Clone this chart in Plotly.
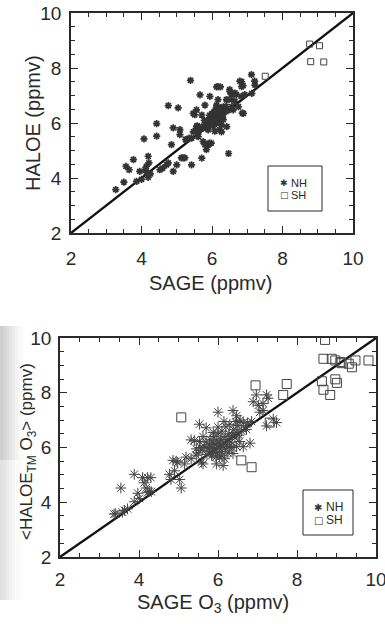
import plotly.graph_objects as go

# ---------------- data: top panel (SAGE vs HALOE) ----------------
top_nh_x = [3.27, 3.50, 3.56, 3.65, 3.77, 3.86, 3.95, 4.00, 4.07, 4.10, 4.14, 4.14, 4.19, 4.21, 4.19, 4.25,
            4.43, 4.43, 4.52, 4.60, 4.71, 4.76, 4.76, 4.85, 4.90, 4.90, 5.00, 5.04, 5.09, 5.09, 5.13, 5.18,
            5.23, 5.28, 5.39, 5.42, 5.42, 5.47, 5.47, 5.51, 5.56, 5.57, 5.61, 5.61, 5.65, 5.66, 5.71, 5.71,
            5.75, 5.75, 5.80, 5.80, 5.84, 5.89, 5.89, 5.89, 5.94, 5.94, 5.92, 5.98, 6.04, 6.08, 6.13, 6.13,
            6.17, 6.24, 6.17, 6.27, 6.22, 6.27, 6.27, 6.32, 6.32, 6.36, 6.41, 6.42, 6.42, 6.47, 6.50, 6.51,
            6.55, 6.56, 6.56, 6.60, 6.65, 6.65, 6.69, 6.75, 6.79, 6.83, 6.84, 6.84, 6.86, 6.88, 6.89, 6.93,
            7.12, 7.13, 7.21, 7.22,
            5.95, 6.00, 6.02, 6.05, 6.08, 6.10, 5.98, 6.03, 6.12, 6.15, 5.90, 5.85, 6.00, 6.06, 6.18, 6.22,
            5.93, 6.10, 6.20, 6.25, 5.80, 5.70, 5.78, 6.12, 6.35, 6.40, 6.30, 6.45, 6.00, 6.05,
            5.55, 5.60, 5.65, 5.58, 5.35, 5.25]
top_nh_y = [3.58, 3.85, 4.42, 4.30, 4.67, 3.88, 4.24, 3.95, 5.42, 4.30, 4.42, 4.20, 4.79, 4.55, 4.02, 4.15,
            5.98, 5.52, 4.30, 4.36, 4.48, 4.55, 6.63, 5.21, 5.82, 4.24, 4.48, 6.55, 5.76, 5.58, 4.73, 4.73,
            4.73, 5.39, 7.55, 4.48, 5.45, 6.35, 5.68, 6.30, 6.48, 5.87, 5.50, 5.70, 5.82, 7.02, 6.29, 4.72,
            5.81, 5.32, 6.65, 5.21, 5.03, 5.88, 5.75, 5.20, 6.97, 6.17, 5.27, 5.27, 6.05, 5.70, 6.65, 7.31,
            7.32, 7.31, 6.85, 6.36, 5.76, 5.68, 5.93, 6.12, 6.59, 6.55, 6.85, 6.84, 5.87, 4.89, 7.21, 7.14,
            7.03, 6.84, 6.59, 6.48, 6.79, 7.09, 7.03, 6.59, 7.52, 6.97, 7.50, 7.32, 6.36, 7.36, 6.35, 7.03,
            7.76, 7.08, 7.52, 7.38,
            6.05, 6.10, 6.20, 6.25, 6.15, 6.30, 5.95, 5.90, 6.05, 6.20, 6.10, 6.00, 6.35, 6.40, 6.45, 6.30,
            6.28, 6.50, 6.10, 6.55, 5.95, 5.85, 6.10, 5.98, 6.40, 6.60, 6.25, 6.45, 6.00, 6.12,
            5.80, 5.60, 5.75, 5.90, 5.45, 5.40]
top_sh_x = [7.51, 8.77, 9.05, 8.80, 9.17]
top_sh_y = [7.70, 8.87, 8.81, 8.23, 8.22]

# ---------------- data: bottom panel (SAGE O3 vs <HALOE_TM O3>) ----------------
bot_nh_x = [3.37, 3.41, 3.54, 3.58, 3.63, 3.71, 3.88, 3.88, 3.97, 4.01, 4.09, 4.13, 4.18, 4.22, 4.26, 4.30,
            4.31, 4.22, 4.77, 4.81, 4.86, 4.90, 4.94, 4.98, 5.03, 5.07, 5.15, 5.19, 5.32, 5.32, 5.45, 5.40,
            5.53, 5.53, 5.58, 5.62, 5.70, 5.87, 5.96, 6.00, 6.04, 6.13, 6.17, 6.38, 6.47, 6.55, 6.64, 6.64,
            6.72, 6.81, 6.89, 6.97, 7.23, 7.02, 7.14, 7.06, 7.14, 7.27, 7.23, 7.40, 7.48, 6.47, 6.38,
            5.60, 5.65, 5.70, 5.75, 5.78, 5.80, 5.82, 5.85, 5.88, 5.90, 5.92, 5.95, 5.97, 6.00, 6.02, 6.05,
            6.07, 6.10, 6.12, 6.15, 6.18, 6.20, 6.22, 6.25, 6.28, 6.30, 6.33, 6.36, 6.40, 6.43, 6.46, 6.50,
            6.53, 6.56, 6.60, 5.72, 5.84, 5.98, 6.08, 6.20, 6.30, 5.50, 5.55, 5.45, 5.62, 5.88, 6.00, 6.15,
            6.45, 6.70, 6.75, 6.85, 5.95, 6.10, 6.25, 6.35]
bot_nh_y = [3.57, 3.58, 4.52, 3.64, 3.70, 3.76, 5.02, 4.02, 4.33, 4.14, 4.90, 4.71, 4.52, 4.90, 4.40, 4.90,
            4.39, 4.35, 5.02, 4.83, 5.53, 5.15, 5.50, 5.46, 4.83, 4.52, 5.40, 5.65, 6.28, 5.59, 5.72, 6.25,
            6.85, 6.22, 5.46, 5.40, 6.72, 5.78, 5.40, 7.29, 5.65, 5.34, 5.59, 7.35, 7.16, 6.22, 6.03, 6.91,
            6.66, 6.16, 7.67, 7.92, 7.92, 7.54, 7.35, 7.29, 7.61, 7.80, 6.79, 7.04, 6.91, 6.03, 5.78,
            5.90, 6.05, 6.20, 5.95, 6.10, 6.30, 5.85, 6.00, 6.15, 6.40, 5.95, 6.10, 6.25, 6.50, 6.00, 6.15,
            6.30, 6.60, 6.05, 6.20, 6.40, 6.75, 6.10, 6.30, 6.50, 6.85, 6.20, 6.45, 6.65, 6.35, 6.55, 6.80,
            6.45, 7.00, 6.60, 5.75, 5.70, 5.80, 5.85, 5.95, 6.05, 5.80, 6.00, 5.95, 6.40, 6.55, 6.75, 6.95,
            6.95, 6.75, 6.90, 6.95, 5.65, 5.70, 5.80, 6.00]
bot_sh_x = [5.07, 6.95, 7.74, 7.65, 7.31, 6.59, 6.85, 8.71, 8.67, 8.88, 8.97, 9.13, 9.31, 9.48, 9.81, 9.39,
            8.63, 8.97, 9.01, 8.67, 8.84, 9.10]
bot_sh_y = [7.10, 8.27, 8.32, 7.92, 6.91, 5.53, 5.28, 9.93, 9.24, 9.24, 9.18, 9.08, 9.06, 9.18, 9.18, 8.93,
            8.42, 8.49, 8.36, 8.11, 7.92, 9.12]

one_to_one = [2, 10]
ticks = [2, 4, 6, 8, 10]
tick_text = ["2", "4", "6", "8", "10"]
legend_labels = ["NH", "SH"]

W, H = 385, 624
FONT = "Liberation Sans, Arial, Helvetica, sans-serif"
INK = "#2a2a2a"

fig = go.Figure()

# top panel
fig.add_trace(go.Scatter(x=one_to_one, y=one_to_one, mode="lines", line=dict(color="#111", width=2.3),
                         showlegend=False, xaxis="x", yaxis="y", hoverinfo="skip"))
fig.add_trace(go.Scatter(x=top_nh_x, y=top_nh_y, mode="markers", name="NH", showlegend=False,
                         marker=dict(symbol="asterisk-open", size=6, color="#333",
                                     line=dict(color="#333", width=1.7)),
                         xaxis="x", yaxis="y"))
fig.add_trace(go.Scatter(x=top_sh_x, y=top_sh_y, mode="markers", name="SH", showlegend=False,
                         marker=dict(symbol="square-open", size=6, color="#444",
                                     line=dict(color="#444", width=1)),
                         xaxis="x", yaxis="y"))

# bottom panel
fig.add_trace(go.Scatter(x=one_to_one, y=one_to_one, mode="lines", line=dict(color="#111", width=2.3),
                         showlegend=False, xaxis="x2", yaxis="y2", hoverinfo="skip"))
fig.add_trace(go.Scatter(x=bot_nh_x, y=bot_nh_y, mode="markers", name="NH", showlegend=False,
                         marker=dict(symbol="asterisk-open", size=9, color="#444",
                                     line=dict(color="#444", width=1)),
                         xaxis="x2", yaxis="y2"))
fig.add_trace(go.Scatter(x=bot_sh_x, y=bot_sh_y, mode="markers", name="SH", showlegend=False,
                         marker=dict(symbol="square-open", size=9, color="#444",
                                     line=dict(color="#444", width=1)),
                         xaxis="x2", yaxis="y2"))


def ax(domain, anchor, standoff):
    return dict(domain=domain, anchor=anchor, range=[2, 10], tickvals=ticks, ticktext=tick_text,
                ticks="inside", ticklen=7, tickwidth=1, tickcolor=INK,
                minor=dict(dtick=0.5, ticks="inside", ticklen=4, tickwidth=1, tickcolor=INK),
                showline=True, linecolor=INK, linewidth=1.5, mirror="ticks",
                showgrid=False, zeroline=False, ticklabelstandoff=standoff, automargin=False,
                ticklabeloverflow="allow",
                tickfont=dict(family=FONT, size=19, color=INK))


def px_x(p):
    return p / W


def px_y(p):
    return 1 - p / H


def text(t, x, y, size, angle=0, anchor="center"):
    return dict(text=t, x=px_x(x), y=px_y(y), xref="paper", yref="paper", textangle=angle,
                xanchor=anchor, yanchor="middle", showarrow=False,
                font=dict(family=FONT, size=size, color=INK))


def legend_box(x0, y0, x1, y1, sym_x, text_x, row_y, sym_size, txt_size):
    shapes = [dict(type="rect", xref="paper", yref="paper", x0=px_x(x0), x1=px_x(x1),
                   y0=px_y(y1), y1=px_y(y0), line=dict(color=INK, width=1), fillcolor="white")]
    anns = []
    symbols = ["\u2731", "\u25a1"]
    for sym, lab, ry in zip(symbols, legend_labels, row_y):
        anns.append(dict(text=sym, x=px_x(sym_x), y=px_y(ry), xref="paper", yref="paper",
                         xanchor="center", yanchor="middle", showarrow=False,
                         font=dict(family="DejaVu Sans", size=sym_size, color="#333")))
        anns.append(text(lab, text_x, ry, txt_size, anchor="left"))
    return shapes, anns


lg1_shapes, lg1_anns = legend_box(268, 166, 322, 211, 284, 289, [183, 195], 9, 11)
lg2_shapes, lg2_anns = legend_box(303, 490, 353, 535, 318, 324, [507, 520], 10, 12)

# scanner shading along the left edge of the lower panel (decoration)
band = "#8a8a8a"
band_shapes = []
strip_ops_top = [0.42, 0.36, 0.30, 0.24, 0.17, 0.11, 0.06, 0.03]
strip_ops_bot = [0.26, 0.22, 0.17, 0.12, 0.08, 0.05, 0.03, 0.01]
for i, (a, b) in enumerate(zip(strip_ops_top, strip_ops_bot)):
    band_shapes.append(dict(type="rect", xref="paper", yref="paper", x0=px_x(3 * i), x1=px_x(3 * i + 3),
                            y0=px_y(460), y1=px_y(326), fillcolor=band, opacity=a,
                            line=dict(width=0), layer="below"))
    band_shapes.append(dict(type="rect", xref="paper", yref="paper", x0=px_x(3 * i), x1=px_x(3 * i + 3),
                            y0=px_y(600), y1=px_y(460), fillcolor=band, opacity=b,
                            line=dict(width=0), layer="below"))

fig.update_layout(
    width=W, height=H, margin=dict(l=0, r=0, t=0, b=0, autoexpand=False),
    paper_bgcolor="white", plot_bgcolor="white", showlegend=False,
    xaxis=ax([px_x(71), px_x(353)], "y", 7),
    yaxis=ax([px_y(233), px_y(13)], "x", 4),
    xaxis2=ax([px_x(60), px_x(376)], "y2", 4),
    yaxis2=ax([px_y(557), px_y(338)], "x2", 3),
    annotations=[
        text("SAGE (ppmv)", 211, 283, 20),
        text("HALOE (ppmv)", 33, 123, 20, angle=-90),
        text("SAGE O<sub>3</sub> (ppmv)", 213, 603, 20),
        text("&lt;HALOE<sub>TM</sub> O<sub>3</sub>&gt; (ppmv)", 28, 452, 17, angle=-90),
    ] + lg1_anns + lg2_anns,
    shapes=band_shapes + lg1_shapes + lg2_shapes,
)

fig.write_html("out.html")
